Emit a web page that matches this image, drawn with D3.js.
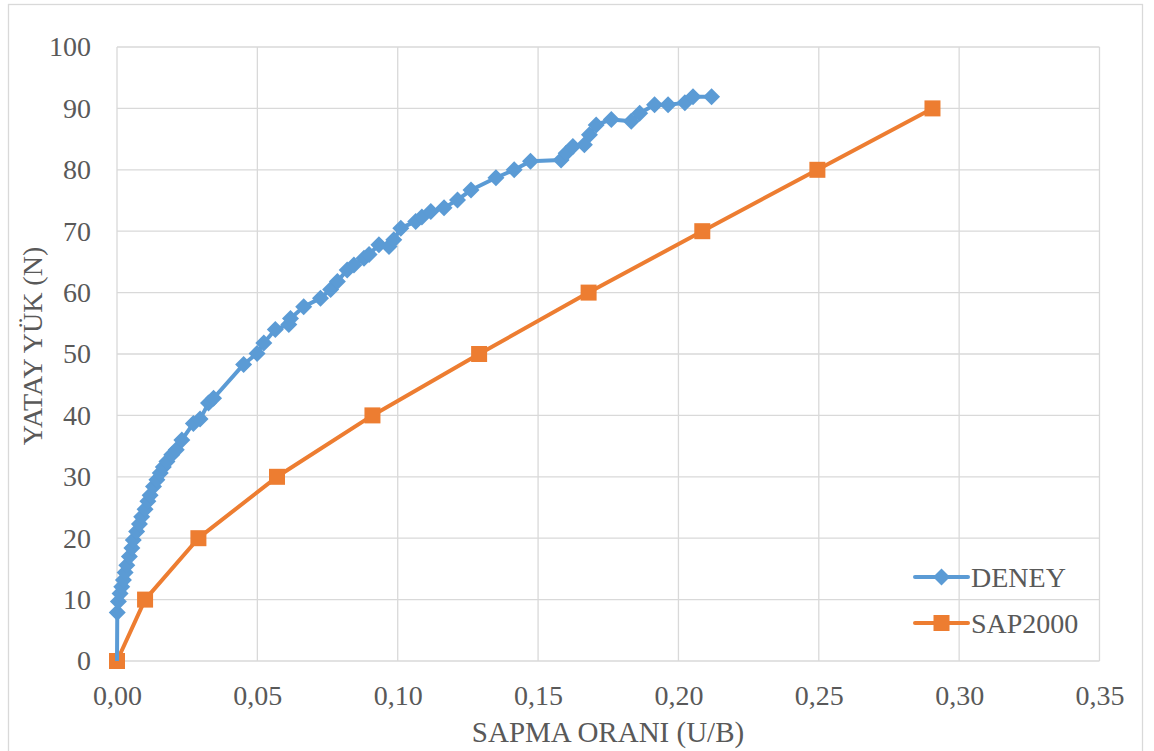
<!DOCTYPE html>
<html>
<head>
<meta charset="utf-8">
<script src="https://cdn.jsdelivr.net/npm/d3@7/dist/d3.min.js"></script>
</head>
<body style="margin:0">
<svg id="chart" width="1154" height="751" style="display:block"></svg>
<script>
// ---- Data ----
const denyX = [0, 0.0001, 0.0005, 0.0011, 0.0017, 0.0023, 0.0029, 0.0035, 0.0044, 0.0053, 0.0058,
  0.0070, 0.0080, 0.0088, 0.0100, 0.0110, 0.0118, 0.0130, 0.0142, 0.0154, 0.0165, 0.0178, 0.0195,
  0.0211, 0.0231, 0.0272, 0.0296, 0.0326, 0.0344, 0.0451, 0.0499, 0.0523, 0.0564, 0.0612, 0.0618,
  0.0665, 0.0725, 0.0761, 0.0785, 0.0820, 0.0844, 0.0880, 0.0898, 0.0933, 0.0969, 0.0986, 0.1011,
  0.1064, 0.1086, 0.1118, 0.1165, 0.1213, 0.1261, 0.1350, 0.1415, 0.1473, 0.1582, 0.1600, 0.1624,
  0.1665, 0.1683, 0.1707, 0.1761, 0.1832, 0.1862, 0.1915, 0.1963, 0.2023, 0.2052, 0.2118];
const denyY = [0, 7.9, 9.7, 11.0, 12.1, 13.2, 14.4, 15.6, 17.0, 18.4, 19.7,
  21.1, 22.3, 23.5, 24.7, 26.0, 27.0, 28.4, 29.5, 30.6, 31.6, 32.5, 33.6,
  34.4, 36.0, 38.7, 39.4, 42.0, 42.8, 48.3, 50.1, 51.8, 54.0, 54.8, 55.8,
  57.7, 59.1, 60.5, 61.8, 63.7, 64.5, 65.6, 66.2, 67.8, 67.5, 68.6, 70.5,
  71.6, 72.3, 73.2, 73.8, 75.1, 76.7, 78.7, 80.0, 81.4, 81.6, 82.7, 83.8,
  84.1, 85.7, 87.3, 88.2, 87.9, 89.2, 90.6, 90.6, 90.9, 91.9, 91.9];
const sapX = [0, 0.010, 0.029, 0.057, 0.091, 0.129, 0.168, 0.2085, 0.2495, 0.2905];
const sapY = [0, 10, 20, 30, 40, 50, 60, 70, 80, 90];
const xTicks = [0, 0.05, 0.10, 0.15, 0.20, 0.25, 0.30, 0.35];
const yTicks = [0, 10, 20, 30, 40, 50, 60, 70, 80, 90, 100];
const seriesNames = ["DENEY", "SAP2000"];
const xTitle = "SAPMA ORANI (U/B)";
const yTitle = "YATAY YÜK (N)";

// ---- Layout ----
const svg = d3.select("#chart");
const pLeft = 117, pRight = 1099.5, pTop = 47, pBottom = 661;
const blue = "#5B9BD5", orange = "#ED7D31", grid = "#D9D9D9", textCol = "#595959";
const FONT = "Liberation Serif";

const x = d3.scaleLinear().domain([0, 0.35]).range([pLeft, pRight]);
const y = d3.scaleLinear().domain([0, 100]).range([pBottom, pTop]);

function styleText(sel, size) {
  return sel.style("font-family", FONT).style("font-size", (size || 28) + "px").attr("fill", textCol);
}

// outer chart border
svg.append("rect").attr("x", 8.5).attr("y", 4.5).attr("width", 1134).attr("height", 760)
  .attr("fill", "#fff").attr("stroke", grid).attr("stroke-width", 1.3);

// gridlines
svg.append("g").selectAll("line").data(yTicks).join("line")
  .attr("x1", pLeft).attr("x2", pRight).attr("y1", d => y(d)).attr("y2", d => y(d))
  .attr("stroke", grid).attr("stroke-width", 1.3);
svg.append("g").selectAll("line").data(xTicks).join("line")
  .attr("y1", pTop).attr("y2", pBottom).attr("x1", d => x(d)).attr("x2", d => x(d))
  .attr("stroke", grid).attr("stroke-width", 1.3);

const fmtX = d => d3.format(".2f")(d).replace(".", ",");

// axes tick labels via d3 axes (no lines)
const gx = svg.append("g").attr("transform", `translate(0,${pBottom})`)
  .call(d3.axisBottom(x).tickValues(xTicks).tickFormat(fmtX).tickSize(0).tickPadding(24));
gx.select(".domain").remove();
styleText(gx.selectAll("text"));

const gy = svg.append("g").attr("transform", `translate(${pLeft},0)`)
  .call(d3.axisLeft(y).tickValues(yTicks).tickFormat(d3.format("d")).tickSize(0).tickPadding(26));
gy.select(".domain").remove();
styleText(gy.selectAll("text"));

// axis titles
styleText(svg.append("text").attr("x", 608).attr("y", 742)
  .attr("text-anchor", "middle").text(xTitle), 29);
styleText(svg.append("text").attr("transform", `translate(42,${(pTop + pBottom) / 2 - 8}) rotate(-90)`)
  .attr("text-anchor", "middle").text(yTitle));

// series
const deny = denyX.map((v, i) => [v, denyY[i]]);
const sap = sapX.map((v, i) => [v, sapY[i]]);
const line = d3.line().x(d => x(d[0])).y(d => y(d[1]));

svg.append("path").datum(sap).attr("d", line).attr("fill", "none")
  .attr("stroke", orange).attr("stroke-width", 4).attr("stroke-linejoin", "round");
svg.append("g").selectAll("rect").data(sap).join("rect")
  .attr("x", d => x(d[0]) - 8).attr("y", d => y(d[1]) - 8)
  .attr("width", 16).attr("height", 16).attr("fill", orange);

svg.append("path").datum(deny).attr("d", line).attr("fill", "none")
  .attr("stroke", blue).attr("stroke-width", 4).attr("stroke-linejoin", "round");
const diamond = "M0,-8.5L8.5,0L0,8.5L-8.5,0Z";
svg.append("g").selectAll("path").data(deny.slice(1)).join("path")
  .attr("d", diamond).attr("transform", d => `translate(${x(d[0])},${y(d[1])})`)
  .attr("fill", blue);

// legend
const legY = [577, 623];
const leg = svg.append("g");
[blue, orange].forEach((c, i) => {
  leg.append("line").attr("x1", 915).attr("x2", 968).attr("y1", legY[i]).attr("y2", legY[i])
    .attr("stroke", c).attr("stroke-width", 4).attr("stroke-linecap", "round");
  if (i === 0) {
    leg.append("path").attr("d", diamond).attr("transform", `translate(941.5,${legY[i]})`).attr("fill", c);
  } else {
    leg.append("rect").attr("x", 933.5).attr("y", legY[i] - 8).attr("width", 16).attr("height", 16).attr("fill", c);
  }
  styleText(leg.append("text").attr("x", 971).attr("y", legY[i]).attr("dy", "0.35em").text(seriesNames[i]));
});
</script>
</body>
</html>
